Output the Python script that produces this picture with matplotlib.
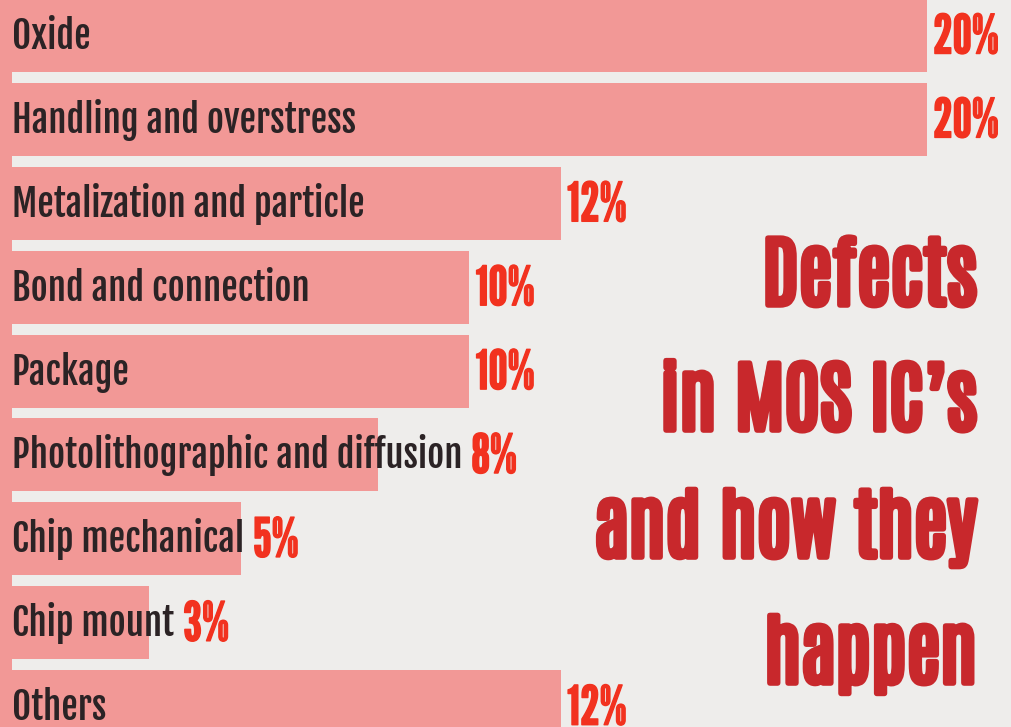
import matplotlib
matplotlib.use("Agg")
import matplotlib.pyplot as plt
import matplotlib.patheffects as pe

categories = [
    "Oxide",
    "Handling and overstress",
    "Metalization and particle",
    "Bond and connection",
    "Package",
    "Photolithographic and diffusion",
    "Chip mechanical",
    "Chip mount",
    "Others",
]
shares = [20, 20, 12, 10, 10, 8, 5, 3, 12]
title_lines = ["Defects", "in MOS IC\u2019s", "and how they", "happen"]

bar_color = "#f29896"
bg_color = "#eeedeb"
label_color = "#2b2325"
pct_color = "#f2321f"
title_color = "#c8282c"

fig = plt.figure(figsize=(10.11, 7.27), dpi=100, facecolor=bg_color)
ax = fig.add_axes([0, 0, 1, 1])
ax.set_facecolor(bg_color)

# 45.75 px per percent, bars start 12 px in from the left edge
ax.set_xlim(-0.262, 21.836)
ax.set_ylim(8.242, -0.423)
ax.axis("off")

ypos = list(range(len(categories)))
ax.barh(ypos, shares, height=0.87, left=0, color=bar_color, linewidth=0)
ax.axvspan(-0.262, 0, color=bar_color, linewidth=0)

# category names sit inside the bars
names = []
for y, cat in zip(ypos, categories):
    t = ax.text(0, y + 0.16, cat, ha="left", va="baseline", color=label_color,
                family="Fjalla One", fontsize=26.5)
    names.append(t)

fig.canvas.draw()
renderer = fig.canvas.get_renderer()
inv = ax.transData.inverted()
px = 1 / 45.75

# percentages go after the bar end or after the name, whichever is further right
pct_fx = [pe.Stroke(linewidth=1.0, foreground=pct_color), pe.Normal()]
for y, v, t in zip(ypos, shares, names):
    text_end = inv.transform((t.get_window_extent(renderer).x1, 0))[0]
    x = max(v + 6 * px, text_end + 9 * px)
    ax.text(x, y + 0.215, f"{v}%", ha="left", va="baseline", color=pct_color,
            family="League Gothic", fontsize=39, path_effects=pct_fx)

title_fx = [
    pe.withSimplePatchShadow(offset=(-1.5, 1.5), shadow_rgbFace="#6e6a6a", alpha=0.85),
    pe.Stroke(linewidth=4, foreground=title_color),
    pe.Normal(),
]
baselines = [0.5805, 0.4085, 0.2338, 0.0605]
for line, yb in zip(title_lines, baselines):
    fig.text(0.9665, yb, line, ha="right", va="baseline", color=title_color,
             family="Antonio", weight="bold", fontsize=56, path_effects=title_fx)

fig.savefig("out.png", facecolor=bg_color)
